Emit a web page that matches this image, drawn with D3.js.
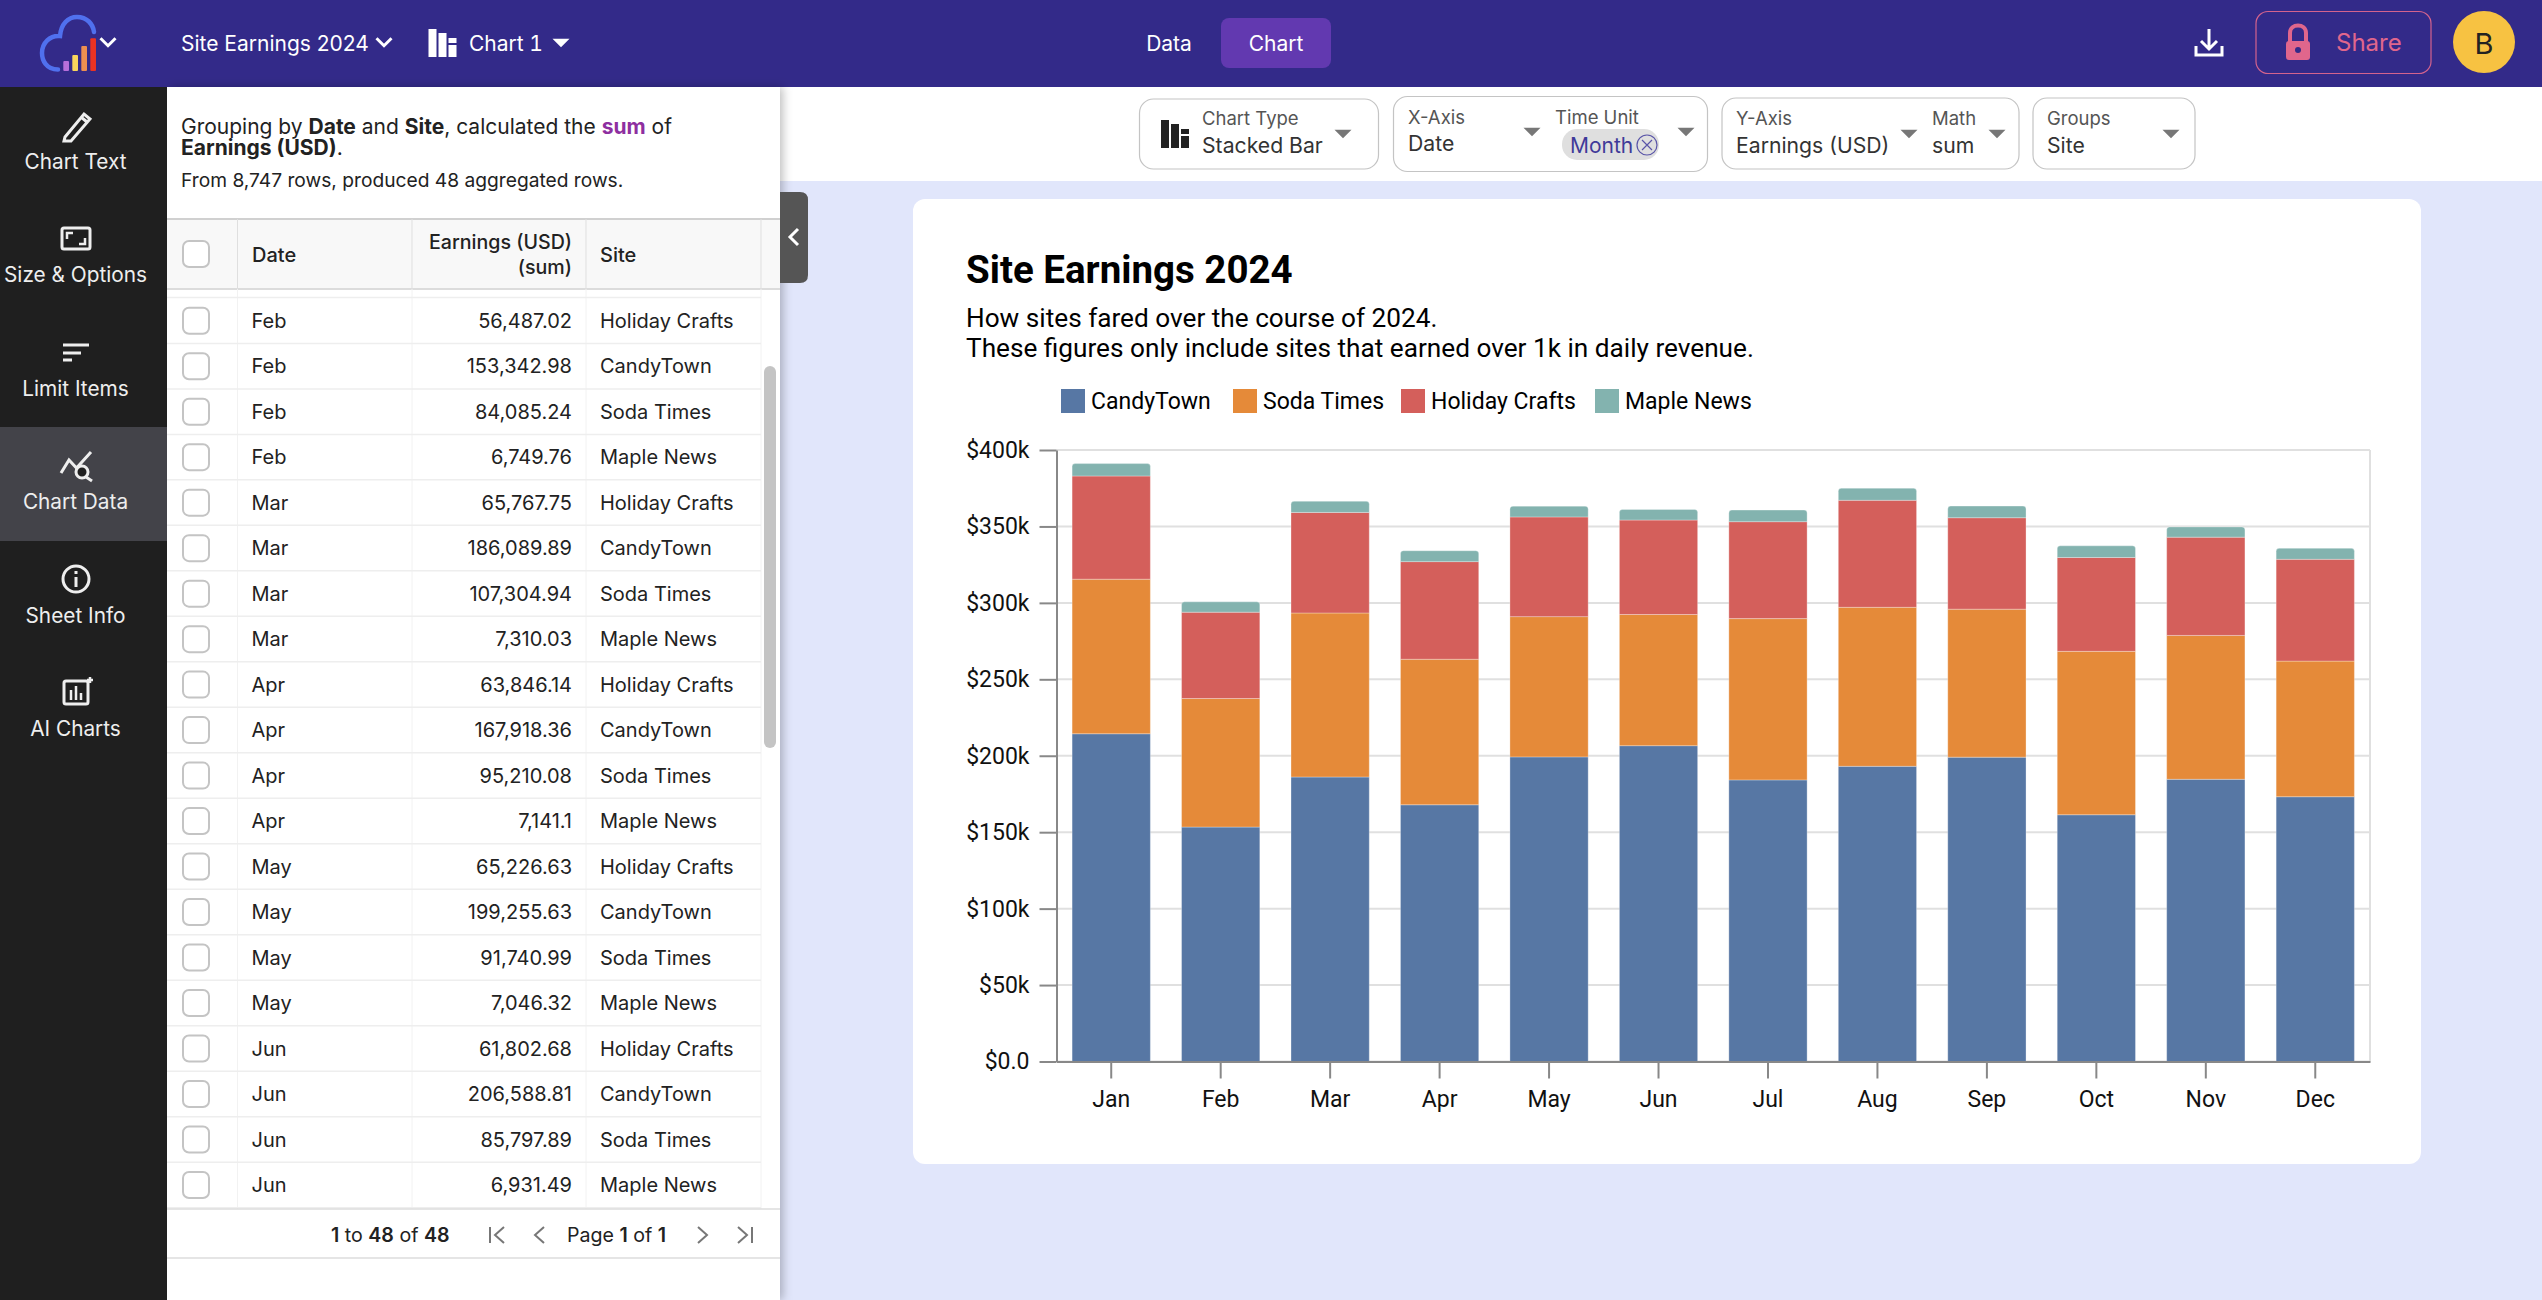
<!DOCTYPE html>
<html>
<head>
<meta charset="utf-8">
<title>Site Earnings 2024</title>
<script src="https://cdn.jsdelivr.net/npm/d3@7"></script>
<style>
html, body { margin: 0; padding: 0; background: #e1e6fb; overflow: hidden; }
svg { display: block; font-family: Roboto, sans-serif; }
.ui { font-family: Inter, Roboto, sans-serif; }
.axis text { font-family: Roboto, sans-serif; font-size: 23px; fill: #111; }
.axis path, .axis line { stroke: #888; stroke-width: 2; }
</style>
</head>
<body>
<svg id="page" width="2542" height="1300"></svg>
<script>
// chart values (Feb-Jun come straight from the table)
const months = ['Jan', 'Feb', 'Mar', 'Apr', 'May', 'Jun', 'Jul', 'Aug', 'Sep', 'Oct', 'Nov', 'Dec'];
const candyTown = [214400, 153342.98, 186089.89, 167918.36, 199255.63, 206588.81, 184200, 193100, 199100, 161400, 184600, 173200];
const sodaTimes = [101100, 84085.24, 107304.94, 95210.08, 91740.99, 85797.89, 105500, 104000, 96800, 106900, 94100, 88700];
const holidayCrafts = [67500, 56487.02, 65767.75, 63846.14, 65226.63, 61802.68, 63400, 70000, 59800, 61400, 64300, 66600];
const mapleNews = [8100, 6749.76, 7310.03, 7141.1, 7046.32, 6931.49, 7600, 7900, 7600, 7600, 6700, 7200];

const siteNames = ['CandyTown', 'Soda Times', 'Holiday Crafts', 'Maple News'];
const siteValues = [candyTown, sodaTimes, holidayCrafts, mapleNews];
const siteColors = ['#5777a4', '#e58a39', '#d45f5b', '#83b3af'];

const yTicks = [0, 50000, 100000, 150000, 200000, 250000, 300000, 350000, 400000];
const yTickLabels = ['$0.0', '$50k', '$100k', '$150k', '$200k', '$250k', '$300k', '$350k', '$400k'];

// the table lists each month in this site order
const tableMonths = ['Feb', 'Mar', 'Apr', 'May', 'Jun'];
const tableSiteOrder = ['Holiday Crafts', 'CandyTown', 'Soda Times', 'Maple News'];

const menuItems = ['Chart Text', 'Size & Options', 'Limit Items', 'Chart Data', 'Sheet Info', 'AI Charts'];

const svg = d3.select('#page');

function label(parent, x, y, str, opts) {
    opts = opts || {};
    return parent.append('text')
        .attr('x', x).attr('y', y)
        .attr('dominant-baseline', 'central')
        .attr('text-anchor', opts.anchor || 'start')
        .attr('font-size', opts.size || 20)
        .attr('font-weight', opts.weight || 400)
        .attr('fill', opts.color || '#222')
        .text(str);
}

function caret(parent, x, y, w, color) {
    parent.append('path')
        .attr('d', `M${x - w / 2},${y - w * 0.25} h${w} l${-w / 2},${w * 0.5} z`)
        .attr('fill', color);
}

/* ---------- chart card ---------- */
const card = svg.append('g');
card.append('rect').attr('x', 913).attr('y', 199).attr('width', 1508).attr('height', 965).attr('rx', 12).attr('fill', '#fff');

card.append('text').attr('x', 966).attr('y', 283).attr('font-size', 38.5).attr('font-weight', 700).attr('fill', '#000').text('Site Earnings 2024');
card.append('text').attr('x', 966).attr('y', 327).attr('font-size', 26.2).attr('fill', '#000').text('How sites fared over the course of 2024.');
card.append('text').attr('x', 966).attr('y', 357).attr('font-size', 26.2).attr('fill', '#000').text('These figures only include sites that earned over 1k in daily revenue.');

const legendX = [1061, 1233, 1401, 1595];
siteNames.forEach((name, i) => {
    card.append('rect').attr('x', legendX[i]).attr('y', 389).attr('width', 24).attr('height', 24).attr('fill', siteColors[i]);
    label(card, legendX[i] + 30, 401, name, { size: 23, color: '#000' });
});

const plot = { left: 1056.5, right: 2370, top: 450, bottom: 1061.5 };

const x = d3.scaleBand().domain(months).range([plot.left, plot.right]).paddingInner(0.285).paddingOuter(0.1425);
const y = d3.scaleLinear().domain([0, 400000]).range([plot.bottom, plot.top]);

// grid
card.append('g').selectAll('line').data(yTicks).join('line')
    .attr('x1', plot.left).attr('x2', plot.right)
    .attr('y1', d => y(d)).attr('y2', d => y(d))
    .attr('stroke', '#e0e0e0').attr('stroke-width', 2);
card.append('line').attr('x1', plot.right).attr('x2', plot.right).attr('y1', plot.top).attr('y2', plot.bottom)
    .attr('stroke', '#e0e0e0').attr('stroke-width', 2);

// stacked bars
const rows = months.map((m, i) => {
    const row = { month: m };
    siteNames.forEach((s, j) => { row[s] = siteValues[j][i]; });
    return row;
});
const stack = d3.stack().keys(siteNames)(rows);

stack.forEach((layer, i) => {
    const isTop = i === stack.length - 1;
    const g = card.append('g');
    g.selectAll('path').data(layer).join('path')
        .attr('d', d => {
            const x0 = x(d.data.month), w = x.bandwidth();
            const y0 = y(d[0]), y1 = y(d[1]);
            const r = isTop ? 3 : 0;
            return `M${x0},${y0} V${y1 + r} Q${x0},${y1} ${x0 + r},${y1} H${x0 + w - r} Q${x0 + w},${y1} ${x0 + w},${y1 + r} V${y0} Z`;
        })
        .attr('fill', siteColors[i])
        .attr('stroke', '#fff')
        .attr('stroke-opacity', 0.3)
        .attr('stroke-width', 1);
});

// axes
const yAxis = d3.axisLeft(y).tickValues(yTicks).tickFormat((d, i) => yTickLabels[i]).tickSize(17).tickSizeOuter(0).tickPadding(10);
card.append('g').attr('class', 'axis').attr('transform', `translate(${plot.left},0)`).call(yAxis);
const xAxis = d3.axisBottom(x).tickSize(17).tickSizeOuter(0).tickPadding(12.5);
card.append('g').attr('class', 'axis').attr('transform', `translate(0,${plot.bottom})`).call(xAxis);

/* ---------- header ---------- */
const head = svg.append('g').attr('class', 'ui');
head.append('rect').attr('width', 2542).attr('height', 87).attr('fill', '#332a89');

// logo
head.append('path')
    .attr('d', 'M58,69.5 C46,69.5 42,60 42,53 C42,43 50,35 60,36 C61,24 68,17 77,17 C87,17 93,24 94,32')
    .attr('fill', 'none').attr('stroke', '#5070ee').attr('stroke-width', 4.5).attr('stroke-linecap', 'round');
[[63.3, 61, '#b86fdb'], [72.3, 55, '#f9d65c'], [81.3, 46, '#ee8f50'], [90.3, 38.3, '#ea3323']].forEach(b => {
    head.append('rect').attr('x', b[0]).attr('y', b[1]).attr('width', 5.7).attr('height', 71 - b[1]).attr('rx', 1).attr('fill', b[2]);
});
const chevron = (px, py, w) => head.append('path')
    .attr('d', `M${px - w / 2},${py - w * 0.25} L${px},${py + w * 0.25} L${px + w / 2},${py - w * 0.25}`)
    .attr('fill', 'none').attr('stroke', '#fff').attr('stroke-width', 3);
chevron(108, 42, 15);

label(head, 181, 43, 'Site Earnings 2024', { size: 21, color: '#fff' });
chevron(384, 42, 15);

// chart type icon
const barIcon = (g, ix, iy, color) => {
    [[0, 0, 8, 28], [10, 4, 8, 24], [20, 9, 8, 5], [20, 16, 8, 12]].forEach(b => {
        g.append('rect').attr('x', ix + b[0]).attr('y', iy + b[1]).attr('width', b[2]).attr('height', b[3]).attr('fill', color);
    });
};
barIcon(head, 428.5, 29, '#fff');
label(head, 469, 43, 'Chart 1', { size: 21, color: '#fff' }).style('font-feature-settings', '"tnum"');
caret(head, 561, 43, 17, '#fff');

label(head, 1169, 43, 'Data', { size: 21, color: '#fff', anchor: 'middle' });
head.append('rect').attr('x', 1221).attr('y', 18).attr('width', 110).attr('height', 50).attr('rx', 8).attr('fill', '#6239b0');
label(head, 1276, 43, 'Chart', { size: 21, color: '#fff', anchor: 'middle' });

// download icon
head.append('path').attr('d', 'M2209,29 V48 M2201,41 L2209,49 L2217,41 M2196,46 V55 H2222 V46')
    .attr('fill', 'none').attr('stroke', '#fff').attr('stroke-width', 3);

// share button
head.append('rect').attr('x', 2256).attr('y', 11.5).attr('width', 175).attr('height', 62).attr('rx', 12)
    .attr('fill', 'none').attr('stroke', '#d4638d').attr('stroke-width', 1.2);
head.append('path').attr('d', 'M2290,42 V33 C2290,23 2306,23 2306,33 V42').attr('fill', 'none').attr('stroke', '#e0668c').attr('stroke-width', 4);
head.append('rect').attr('x', 2286).attr('y', 41).attr('width', 24).attr('height', 19).attr('rx', 3).attr('fill', '#e0668c');
head.append('circle').attr('cx', 2298).attr('cy', 50).attr('r', 3).attr('fill', '#332a89');
label(head, 2336, 42, 'Share', { size: 24, color: '#e0668c' });

head.append('circle').attr('cx', 2484).attr('cy', 42).attr('r', 31).attr('fill', '#f7c242');
label(head, 2484, 43, 'B', { size: 29, color: '#222', anchor: 'middle' });

/* ---------- toolbar ---------- */
const tool = svg.append('g').attr('class', 'ui');
tool.append('rect').attr('y', 87).attr('width', 2542).attr('height', 94).attr('fill', '#fff');

const pills = [
    { x: 1139.5, y: 99, w: 239, h: 70 },
    { x: 1393.5, y: 96.5, w: 314, h: 75 },
    { x: 1722, y: 98, w: 297, h: 71 },
    { x: 2033, y: 98, w: 162, h: 71 }
];
tool.selectAll('rect.pill').data(pills).join('rect').attr('class', 'pill')
    .attr('x', d => d.x).attr('y', d => d.y).attr('width', d => d.w).attr('height', d => d.h)
    .attr('rx', 14).attr('fill', '#fff').attr('stroke', '#c4c4c4').attr('stroke-width', 1.2);

barIcon(tool, 1161, 120, '#222');
const small = [['Chart Type', 1202, 118], ['X-Axis', 1408, 117], ['Time Unit', 1555, 117], ['Y-Axis', 1736, 118], ['Math', 1932, 118], ['Groups', 2047, 118]];
small.forEach(s => label(tool, s[1], s[2], s[0], { size: 18.5, color: '#555' }));
const big = [['Stacked Bar', 1202, 145], ['Date', 1408, 143], ['Earnings (USD)', 1736, 145], ['sum', 1932, 145], ['Site', 2047, 145]];
big.forEach(s => label(tool, s[1], s[2], s[0], { size: 21.2, color: '#333' }));
[[1343, 134], [1532, 132], [1686, 132], [1909, 134], [1997, 134], [2171, 134]].forEach(c => caret(tool, c[0], c[1], 17, '#777'));

tool.append('rect').attr('x', 1562).attr('y', 129).attr('width', 97).attr('height', 31).attr('rx', 15).attr('fill', '#dfdfdf');
label(tool, 1570, 145, 'Month', { size: 21, color: '#3f3a99' });
tool.append('circle').attr('cx', 1647).attr('cy', 145).attr('r', 10).attr('fill', 'none').attr('stroke', '#5a55a8').attr('stroke-width', 1.2);
tool.append('path').attr('d', 'M1642,140 L1652,150 M1652,140 L1642,150').attr('stroke', '#5a55a8').attr('stroke-width', 1.2);

/* ---------- data panel ---------- */
const defs = svg.append('defs');
const shadow = defs.append('filter').attr('id', 'panelShadow').attr('x', '-10%').attr('width', '120%');
shadow.append('feDropShadow').attr('dx', 3).attr('dy', 0).attr('stdDeviation', 5).attr('flood-color', '#000').attr('flood-opacity', 0.25);

const panel = svg.append('g').attr('class', 'ui');
panel.append('rect').attr('x', 167).attr('y', 87).attr('width', 613).attr('height', 1213).attr('fill', '#fff').attr('filter', 'url(#panelShadow)');

// collapse tab
panel.append('path').attr('d', 'M780,192 H800 Q808,192 808,200 V275 Q808,283 800,283 H780 Z').attr('fill', '#555');
panel.append('path').attr('d', 'M798,229 L790,237 L798,245').attr('fill', 'none').attr('stroke', '#fff').attr('stroke-width', 3);

const summary = panel.append('text').attr('x', 181).attr('y', 126).attr('dominant-baseline', 'central').attr('font-size', 21).attr('fill', '#222');
summary.append('tspan').text('Grouping by ');
summary.append('tspan').attr('font-weight', 700).text('Date');
summary.append('tspan').text(' and ');
summary.append('tspan').attr('font-weight', 700).text('Site');
summary.append('tspan').text(', calculated the ');
summary.append('tspan').attr('font-weight', 700).attr('fill', '#8e2fa0').text('sum');
summary.append('tspan').text(' of');
const summary2 = panel.append('text').attr('x', 181).attr('y', 147).attr('dominant-baseline', 'central').attr('font-size', 21).attr('fill', '#222');
summary2.append('tspan').attr('font-weight', 700).text('Earnings (USD)');
summary2.append('tspan').text('.');
label(panel, 181, 180, 'From 8,747 rows, produced 48 aggregated rows.', { size: 19.2 });

// table header
panel.append('rect').attr('x', 167).attr('y', 218).attr('width', 613).attr('height', 71).attr('fill', '#f8f8f8');
panel.append('line').attr('x1', 167).attr('x2', 780).attr('y1', 219).attr('y2', 219).attr('stroke', '#d0d0d0').attr('stroke-width', 2);
panel.append('line').attr('x1', 167).attr('x2', 780).attr('y1', 289).attr('y2', 289).attr('stroke', '#dcdcdc').attr('stroke-width', 2);
label(panel, 252, 255, 'Date', { size: 20, weight: 500 });
label(panel, 572, 242, 'Earnings (USD)', { size: 19.6, weight: 500, anchor: 'end' });
label(panel, 572, 267, '(sum)', { size: 19.6, weight: 500, anchor: 'end' });
label(panel, 600, 255, 'Site', { size: 20, weight: 500 });

const checkbox = (cy) => panel.append('rect').attr('x', 183).attr('y', cy - 13).attr('width', 26).attr('height', 26)
    .attr('rx', 6).attr('fill', '#fff').attr('stroke', '#c4c4c4').attr('stroke-width', 2);
checkbox(254);

// table rows come from the series above
const fmt = d3.format(',.2~f');
const tableRows = [];
tableMonths.forEach(m => {
    const mi = months.indexOf(m);
    tableSiteOrder.forEach(s => {
        tableRows.push({ month: m, site: s, value: siteValues[siteNames.indexOf(s)][mi] });
    });
});
const rowY = d3.scaleLinear().domain([0, 19]).range([320.7, 1185]);

[237.5, 412, 586, 761].forEach(cx => {
    panel.append('line').attr('x1', cx).attr('x2', cx).attr('y1', 219).attr('y2', 289).attr('stroke', '#dfdfdf').attr('stroke-width', 1);
    panel.append('line').attr('x1', cx).attr('x2', cx).attr('y1', 289).attr('y2', 1209).attr('stroke', '#f2f2f2').attr('stroke-width', 1);
});
tableRows.forEach((r, i) => {
    const cy = rowY(i);
    panel.append('line').attr('x1', 167).attr('x2', 761).attr('y1', cy + 22.7).attr('y2', cy + 22.7).attr('stroke', '#eeeeee').attr('stroke-width', 1.5);
    checkbox(cy);
    label(panel, 251.5, cy, r.month);
    label(panel, 572, cy, fmt(r.value), { anchor: 'end' });
    label(panel, 600, cy, r.site);
});
panel.append('line').attr('x1', 167).attr('x2', 761).attr('y1', 297.5).attr('y2', 297.5).attr('stroke', '#eeeeee').attr('stroke-width', 1.5);

// scrollbar
panel.append('rect').attr('x', 764).attr('y', 366).attr('width', 12).attr('height', 382).attr('rx', 6).attr('fill', '#c4c4c4');

// pager
panel.append('rect').attr('x', 167).attr('y', 1209).attr('width', 613).attr('height', 91).attr('fill', '#fff');
panel.append('line').attr('x1', 167).attr('x2', 780).attr('y1', 1209).attr('y2', 1209).attr('stroke', '#dcdcdc').attr('stroke-width', 1.5);
panel.append('line').attr('x1', 167).attr('x2', 780).attr('y1', 1258).attr('y2', 1258).attr('stroke', '#dcdcdc').attr('stroke-width', 1.5);
const pagerText = (px, parts) => {
    const t = panel.append('text').attr('x', px).attr('y', 1235).attr('dominant-baseline', 'central').attr('font-size', 19.6).attr('fill', '#222');
    parts.forEach(p => t.append('tspan').attr('font-weight', p[1] ? 600 : 400).text(p[0]));
};
pagerText(331, [['1', 1], [' to ', 0], ['48', 1], [' of ', 0], ['48', 1]]);
pagerText(567, [['Page ', 0], ['1', 1], [' of ', 0], ['1', 1]]);
const pagerIcon = d => panel.append('path').attr('d', d).attr('fill', 'none').attr('stroke', '#777').attr('stroke-width', 2);
pagerIcon('M490,1227 V1243 M504,1227 L495,1235 L504,1243');
pagerIcon('M544,1227 L535,1235 L544,1243');
pagerIcon('M698,1227 L707,1235 L698,1243');
pagerIcon('M738,1227 L747,1235 L738,1243 M752,1227 V1243');

/* ---------- left menu ---------- */
const menu = svg.append('g').attr('class', 'ui');
menu.append('rect').attr('y', 87).attr('width', 167).attr('height', 1213).attr('fill', '#1f1f1f');
menu.append('rect').attr('y', 427).attr('width', 167).attr('height', 114).attr('fill', '#434349');

const menuRow = d3.scaleLinear().domain([0, 5]).range([161.2, 728.5]);
menuItems.forEach((m, i) => label(menu, 75.5, menuRow(i), m, { size: 20.8, color: '#eee', anchor: 'middle' }));

const iconCol = '#eee';
const stroke = (d, w) => menu.append('path').attr('d', d).attr('fill', 'none').attr('stroke', iconCol).attr('stroke-width', w || 3);
stroke('M65,137 L84,114 L90,119 L71,141 L64,141 Z M81,117 L87,122');
menu.append('rect').attr('x', 62).attr('y', 228).attr('width', 28).attr('height', 21).attr('rx', 2).attr('fill', 'none').attr('stroke', iconCol).attr('stroke-width', 3);
stroke('M67,239 V233 H73 M85,238 V244 H79', 2.5);
stroke('M63,345 H89 M63,353 H81 M63,360 H72', 3);
stroke('M61,473 L69,460 L76.5,468 L91,452', 3);
menu.append('circle').attr('cx', 82).attr('cy', 472).attr('r', 6).attr('fill', '#1f1f1f').attr('stroke', iconCol).attr('stroke-width', 3);
stroke('M86,477 L92,481');
menu.append('circle').attr('cx', 76).attr('cy', 579).attr('r', 13).attr('fill', 'none').attr('stroke', iconCol).attr('stroke-width', 3);
stroke('M76,577 V587 M76,571 V574', 3);
menu.append('rect').attr('x', 64).attr('y', 681).attr('width', 24).attr('height', 23).attr('rx', 2).attr('fill', 'none').attr('stroke', iconCol).attr('stroke-width', 3);
stroke('M71,700 V690 M76,700 V686 M81,700 V693 M87,680 H93 M90,677 V683', 2.5);
</script>
</body>
</html>
